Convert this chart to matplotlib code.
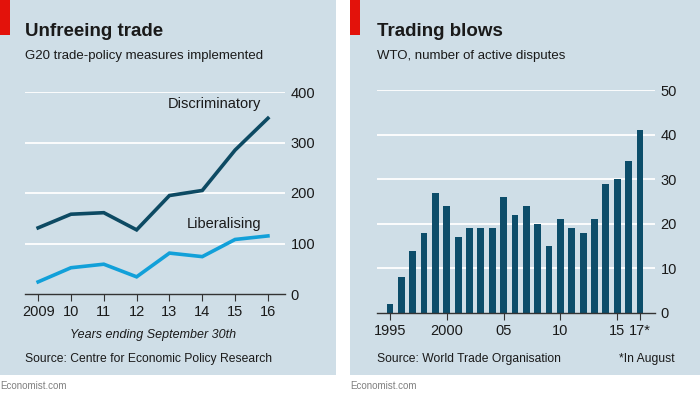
import matplotlib.pyplot as plt
from matplotlib.patches import Rectangle

# ----------------------------------------------------------------------------
# Data
# ----------------------------------------------------------------------------
years_left = [2009, 2010, 2011, 2012, 2013, 2014, 2015, 2016]
year_labels_left = ["2009", "10", "11", "12", "13", "14", "15", "16"]
discriminatory = [131, 158, 161, 127, 195, 205, 285, 348]
liberalising = [24, 52, 59, 34, 81, 74, 108, 115]

years_right = list(range(1995, 2018))
disputes = [2, 8, 14, 18, 27, 24, 17, 19, 19, 19, 26, 22, 24, 20, 15, 21,
            19, 18, 21, 29, 30, 34, 41]
tick_years_right = [1995, 2000, 2005, 2010, 2015, 2017]
tick_labels_right = ["1995", "2000", "05", "10", "15", "17*"]

W, H = 700, 393
BG = "#cfdee7"
DARK = "#0d4a63"
LIGHT = "#12a0d9"
BAR = "#0c4d6a"
TXT = "#1a1a1a"
RED = "#e3120b"

plt.rcParams["font.family"] = ["Liberation Sans", "DejaVu Sans"]


def fx(x):
    return x / W


def fy(y):
    return 1 - y / H


def axes_px(fig, x0, y0, x1, y1):
    """Axes from pixel box (top-left origin)."""
    return fig.add_axes([fx(x0), fy(y1), (x1 - x0) / W, (y1 - y0) / H])


def style(ax, yticks):
    ax.set_facecolor("none")
    for s in ("top", "right", "left"):
        ax.spines[s].set_visible(False)
    ax.spines["bottom"].set_color("#333333")
    ax.spines["bottom"].set_linewidth(1.0)
    ax.yaxis.tick_right()
    ax.set_yticks(yticks)
    ax.tick_params(axis="y", length=0, pad=4, labelsize=10.5, labelcolor=TXT)
    ax.tick_params(axis="x", direction="out", length=5, width=0.8,
                   color="#333333", labelsize=10.5, labelcolor=TXT, pad=3)
    for v in yticks[1:]:
        ax.axhline(v, color="white", lw=1.3, zorder=0)


fig = plt.figure(figsize=(7, 3.93), dpi=100)
fig.patch.set_facecolor("white")

# panel backgrounds and red tags
for x0, x1 in ((0, 336), (350, 700)):
    fig.add_artist(Rectangle((fx(x0), fy(375)), (x1 - x0) / W, 375 / H,
                             transform=fig.transFigure, facecolor=BG,
                             edgecolor="none", zorder=-10))
    fig.add_artist(Rectangle((fx(x0), fy(35)), 10 / W, 35 / H,
                             transform=fig.transFigure, facecolor=RED,
                             edgecolor="none", zorder=-9))

# ---------------------------------------------------------------- left panel
fig.text(fx(25), fy(36), "Unfreeing trade", fontsize=13.5, fontweight="bold",
         color=TXT, va="baseline")
fig.text(fx(25), fy(59), "G20 trade-policy measures implemented", fontsize=9.5,
         color=TXT, va="baseline")

ax1 = axes_px(fig, 25, 92, 285, 294)
style(ax1, [0, 100, 200, 300, 400])
ax1.set_ylim(0, 400)
ax1.set_xlim(2008.6, 2016.52)
ax1.plot(years_left, discriminatory, color=DARK, lw=2.6, solid_joinstyle="miter")
ax1.plot(years_left, liberalising, color=LIGHT, lw=2.6, solid_joinstyle="miter")
ax1.set_xticks(years_left)
ax1.set_xticklabels(year_labels_left)
ax1.text(2015.8, 362, "Discriminatory", fontsize=10.5, color=TXT, ha="right",
         va="bottom")
ax1.text(2015.8, 124, "Liberalising", fontsize=10.5, color=TXT, ha="right",
         va="bottom")

fig.text(fx(153), fy(338), "Years ending September 30th", fontsize=9,
         style="italic", color=TXT, ha="center", va="baseline")
fig.text(fx(25), fy(362), "Source: Centre for Economic Policy Research",
         fontsize=8.7, color=TXT, va="baseline")
fig.text(fx(0), fy(389), "Economist.com", fontsize=7, color="#808080",
         va="baseline")

# --------------------------------------------------------------- right panel
fig.text(fx(377), fy(36), "Trading blows", fontsize=13.5, fontweight="bold",
         color=TXT, va="baseline")
fig.text(fx(377), fy(59), "WTO, number of active disputes", fontsize=9.5,
         color=TXT, va="baseline")

ax2 = axes_px(fig, 377, 90, 655, 313)
style(ax2, [0, 10, 20, 30, 40, 50])
ax2.set_ylim(0, 50)
ax2.set_xlim(1993.86, 2018.32)
ax2.bar(years_right, disputes, width=0.6, color=BAR, zorder=2)
ax2.set_xticks(tick_years_right)
ax2.set_xticklabels(tick_labels_right)

fig.text(fx(377), fy(362), "Source: World Trade Organisation", fontsize=8.7,
         color=TXT, va="baseline")
fig.text(fx(675), fy(362), "*In August", fontsize=8.7, color=TXT, ha="right",
         va="baseline")
fig.text(fx(350), fy(389), "Economist.com", fontsize=7, color="#808080",
         va="baseline")

fig.savefig("out.png", dpi=100, facecolor=fig.get_facecolor())
